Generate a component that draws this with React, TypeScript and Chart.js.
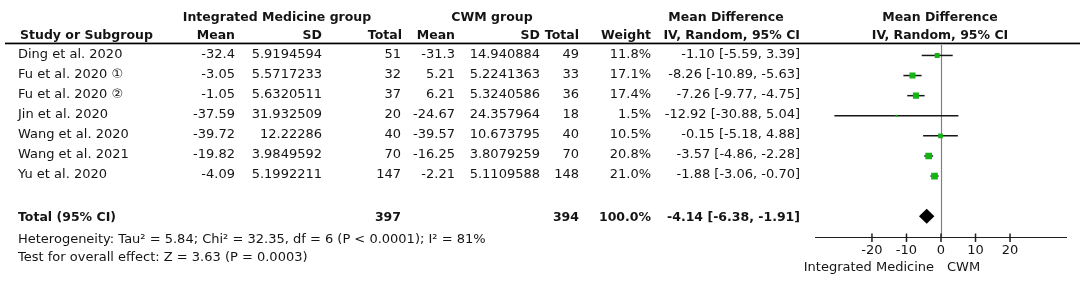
import React, { useEffect, useRef } from "react";
import { Chart, registerables } from "chart.js";

Chart.register(...registerables);

// ---------- data ----------
const STUDIES = [
  "Ding et al. 2020",
  "Fu et al. 2020 \u2460",
  "Fu et al. 2020 \u2461",
  "Jin et al. 2020",
  "Wang et al. 2020",
  "Wang et al. 2021",
  "Yu et al. 2020",
];
const IM_MEAN = [-32.4, -3.05, -1.05, -37.59, -39.72, -19.82, -4.09];
const IM_SD = [5.9194594, 5.5717233, 5.6320511, 31.932509, 12.22286, 3.9849592, 5.1992211];
const IM_TOTAL = [51, 32, 37, 20, 40, 70, 147];
const CWM_MEAN = [-31.3, 5.21, 6.21, -24.67, -39.57, -16.25, -2.21];
const CWM_SD = [14.940884, 5.2241363, 5.3240586, 24.357964, 10.673795, 3.8079259, 5.1109588];
const CWM_TOTAL = [49, 33, 36, 18, 40, 70, 148];
const WEIGHT = [11.8, 17.1, 17.4, 1.5, 10.5, 20.8, 21.0];
const MD = [-1.1, -8.26, -7.26, -12.92, -0.15, -3.57, -1.88];
const CI_LO = [-5.59, -10.89, -9.77, -30.88, -5.18, -4.86, -3.06];
const CI_HI = [3.39, -5.63, -4.75, 5.04, 4.88, -2.28, -0.7];

const TOTAL_IM = 397;
const TOTAL_CWM = 394;
const TOTAL_WEIGHT = 100.0;
const TOTAL_MD = -4.14;
const TOTAL_LO = -6.38;
const TOTAL_HI = -1.91;
const TOTAL_ROW = 8;

const X_TICKS = [-20, -10, 0, 10, 20];
const HETEROGENEITY = "Heterogeneity: Tau\u00B2 = 5.84; Chi\u00B2 = 32.35, df = 6 (P < 0.0001); I\u00B2 = 81%";
const OVERALL = "Test for overall effect: Z = 3.63 (P = 0.0003)";
const FAVOURS_LEFT = "Integrated Medicine";
const FAVOURS_RIGHT = "CWM";

// ---------- styles ----------
const FONT = '13px "DejaVu Sans"';
const BOLD = 'bold 12.5px "DejaVu Sans"';
const TXT = "#141414";
const GREEN = "#14b414";

const fmtCI = (m: number, lo: number, hi: number) =>
  `${m.toFixed(2)} [${lo.toFixed(2)}, ${hi.toFixed(2)}]`;

const forestPlugin = {
  id: "forest",
  beforeDatasetsDraw(chart: any) {
    const { ctx, chartArea } = chart;
    const xs = chart.scales.x;
    const ys = chart.scales.y;
    ctx.save();
    // zero line
    const x0 = Math.round(xs.getPixelForValue(0)) + 0.5;
    ctx.strokeStyle = "#808080";
    ctx.lineWidth = 1.2;
    ctx.beginPath();
    ctx.moveTo(x0, chartArea.top);
    ctx.lineTo(x0, chartArea.bottom);
    ctx.stroke();
    // whiskers
    ctx.strokeStyle = "#161616";
    ctx.lineWidth = 1.5;
    for (let i = 0; i < MD.length; i++) {
      const y = ys.getPixelForValue(i);
      ctx.beginPath();
      ctx.moveTo(xs.getPixelForValue(CI_LO[i]), y);
      ctx.lineTo(xs.getPixelForValue(CI_HI[i]), y);
      ctx.stroke();
    }
    ctx.restore();
  },
  afterDatasetsDraw(chart: any) {
    const { ctx, chartArea } = chart;
    const xs = chart.scales.x;
    const ys = chart.scales.y;
    ctx.save();
    // diamond
    const yT = ys.getPixelForValue(TOTAL_ROW);
    ctx.fillStyle = "#000";
    ctx.beginPath();
    ctx.moveTo(xs.getPixelForValue(TOTAL_LO), yT);
    ctx.lineTo(xs.getPixelForValue(TOTAL_MD), yT - 7.5);
    ctx.lineTo(xs.getPixelForValue(TOTAL_HI), yT);
    ctx.lineTo(xs.getPixelForValue(TOTAL_MD), yT + 7.5);
    ctx.closePath();
    ctx.fill();

    // x axis
    const yb = chartArea.bottom;
    ctx.strokeStyle = "#202020";
    ctx.lineWidth = 1;
    ctx.beginPath();
    ctx.moveTo(chartArea.left, yb);
    ctx.lineTo(chartArea.right, yb);
    ctx.stroke();
    ctx.lineWidth = 1.5;
    ctx.fillStyle = TXT;
    ctx.font = FONT;
    ctx.textAlign = "center";
    ctx.textBaseline = "middle";
    for (const t of X_TICKS) {
      const px = xs.getPixelForValue(t);
      ctx.beginPath();
      ctx.moveTo(px, yb - 4);
      ctx.lineTo(px, yb + 4.5);
      ctx.stroke();
      ctx.fillText(String(t), px, 251);
    }
    const x0 = xs.getPixelForValue(0);
    ctx.textAlign = "right";
    ctx.fillText(FAVOURS_LEFT, x0 - 7, 268);
    ctx.textAlign = "left";
    ctx.fillText(FAVOURS_RIGHT, x0 + 6, 268);

    // ---------- table ----------
    const R_MEAN1 = 235, R_SD1 = 322, R_TOT1 = 401, R_MEAN2 = 455, R_SD2 = 540, R_TOT2 = 579, R_W = 651, R_CI = 800;
    const STUDY_X = 18;
    // headers
    ctx.font = BOLD;
    ctx.textAlign = "center";
    ctx.fillText("Integrated Medicine group", 277, 18);
    ctx.fillText("CWM group", 492, 18);
    ctx.fillText("Mean Difference", 726, 18);
    ctx.fillText("Mean Difference", 940, 18);
    ctx.fillText("IV, Random, 95% CI", 940, 36);
    ctx.textAlign = "left";
    ctx.fillText("Study or Subgroup", 20, 36);
    ctx.textAlign = "right";
    ctx.fillText("Mean", R_MEAN1, 36);
    ctx.fillText("SD", R_SD1, 36);
    ctx.fillText("Total", R_TOT1 + 1, 36);
    ctx.fillText("Mean", R_MEAN2, 36);
    ctx.fillText("SD", R_SD2, 36);
    ctx.fillText("Total", R_TOT2, 36);
    ctx.fillText("Weight", R_W, 36);
    ctx.fillText("IV, Random, 95% CI", R_CI, 36);

    // header rule
    ctx.fillStyle = "#000";
    ctx.fillRect(5, 42.6, 1075, 1.7);

    // rows
    ctx.fillStyle = TXT;
    ctx.font = FONT;
    for (let i = 0; i < STUDIES.length; i++) {
      const y = ys.getPixelForValue(i) - 1;
      ctx.textAlign = "left";
      ctx.fillText(STUDIES[i], STUDY_X, y);
      ctx.textAlign = "right";
      ctx.fillText(String(IM_MEAN[i]), R_MEAN1, y);
      ctx.fillText(String(IM_SD[i]), R_SD1, y);
      ctx.fillText(String(IM_TOTAL[i]), R_TOT1, y);
      ctx.fillText(String(CWM_MEAN[i]), R_MEAN2, y);
      ctx.fillText(String(CWM_SD[i]), R_SD2, y);
      ctx.fillText(String(CWM_TOTAL[i]), R_TOT2, y);
      ctx.fillText(WEIGHT[i].toFixed(1) + "%", R_W, y);
      ctx.fillText(fmtCI(MD[i], CI_LO[i], CI_HI[i]), R_CI, y);
    }
    // total row
    const yt = yT + 1;
    ctx.font = BOLD;
    ctx.textAlign = "left";
    ctx.fillText("Total (95% CI)", STUDY_X, yt);
    ctx.textAlign = "right";
    ctx.fillText(String(TOTAL_IM), R_TOT1, yt);
    ctx.fillText(String(TOTAL_CWM), R_TOT2, yt);
    ctx.fillText(TOTAL_WEIGHT.toFixed(1) + "%", R_W, yt);
    ctx.fillText(fmtCI(TOTAL_MD, TOTAL_LO, TOTAL_HI), R_CI, yt);
    // footer
    ctx.font = FONT;
    ctx.textAlign = "left";
    ctx.fillText(HETEROGENEITY, STUDY_X, 240);
    ctx.fillText(OVERALL, STUDY_X, 258);
    ctx.restore();
  },
};

export default function App() {
  const ref = useRef<HTMLCanvasElement | null>(null);
  useEffect(() => {
    if (!ref.current) return;
    const chart = new Chart(ref.current, {
      type: "scatter",
      data: {
        datasets: [
          {
            data: MD.map((m, i) => ({ x: m, y: i })),
            pointStyle: "rect",
            pointRadius: WEIGHT.map((w) => 1.03 * Math.sqrt(w)),
            backgroundColor: GREEN,
            borderWidth: 0,
          },
        ],
      },
      options: {
        animation: false,
        responsive: false,
        maintainAspectRatio: false,
        devicePixelRatio: 1,
        layout: { padding: { left: 815, right: 17, top: 45, bottom: 47.5 } },
        scales: {
          x: { type: "linear", min: -36.5, max: 36.5, display: false },
          y: { type: "linear", min: -0.52, max: 9.057, reverse: true, display: false },
        },
        plugins: { legend: { display: false }, tooltip: { enabled: false } },
      },
      plugins: [forestPlugin],
    } as any);
    return () => chart.destroy();
  }, []);
  return (
    <div style={{ position: "fixed", left: 0, top: 0, width: 1084, height: 285, background: "#fff" }}>
      <canvas ref={ref} width={1084} height={285} style={{ display: "block", width: 1084, height: 285 }} />
    </div>
  );
}
